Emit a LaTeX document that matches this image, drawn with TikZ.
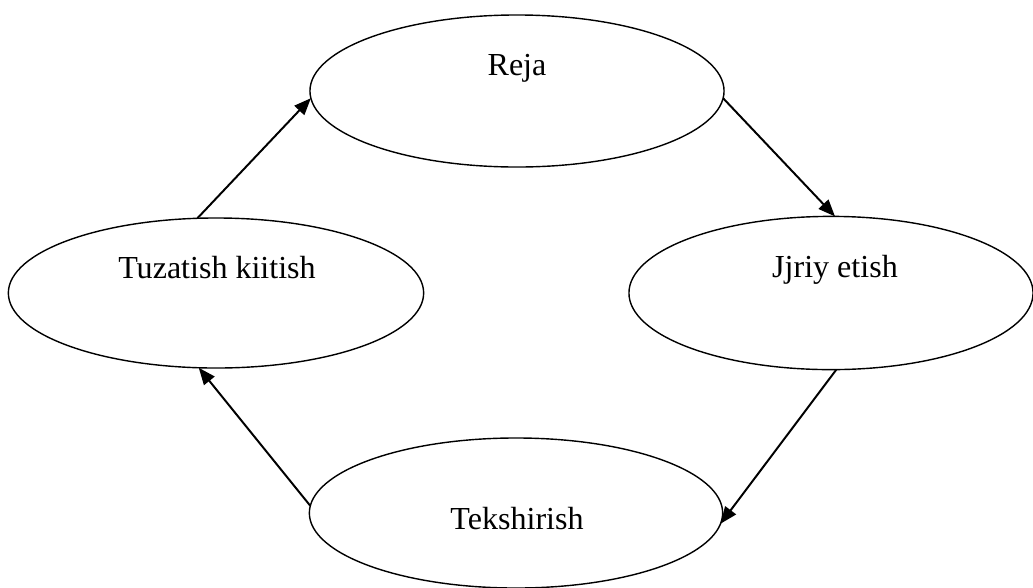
\documentclass[tikz,border=0pt]{standalone}
\usepackage{fontspec}
\setmainfont{Liberation Serif}
\usetikzlibrary{shapes, arrows.meta, positioning}

\begin{document}
\begin{tikzpicture}[x=0.025cm, y=-0.025cm,
        oval/.style={draw, ellipse, line width=1pt, inner sep=0pt, outer sep=0pt},
        lbl/.style={anchor=base, inner sep=0pt, font=\fontsize{22.8}{27}\selectfont},
        link/.style={-{Triangle[length=12pt, width=9.5pt]}, line width=1.4pt}]

            \useasboundingbox (0,0) rectangle (1033,587);

            \node[oval, minimum width=10.35cm, minimum height=3.8cm] (Reja) at (517,91) {};
            \node[oval, minimum width=10.1cm, minimum height=3.83cm] (Ijro) at (831,293) {};
            \node[oval, minimum width=10.33cm, minimum height=3.75cm] (Tekshir) at (516,513) {};
            \node[oval, minimum width=10.38cm, minimum height=3.75cm] (Tuzat) at (216,293) {};

            \node[lbl] (RejaT) at (517,75) {Reja};
            \node[lbl] (IjroT) at (835,277) {Jjriy etish};
            \node[lbl] (TekshirT) at (517,529) {Tekshirish};
            \node[lbl] (TuzatT) at (217,278) {Tuzatish kiitish};

            \draw[link] (Tuzat.104) -- (Reja.182);
            \draw[link] (Reja.358) -- (Ijro.87);
            \draw[link] (Ijro.274) -- (Tekshir.357);
            \draw[link] (Tekshir.178) -- (Tuzat.257);

        \end{tikzpicture}
\end{document}
